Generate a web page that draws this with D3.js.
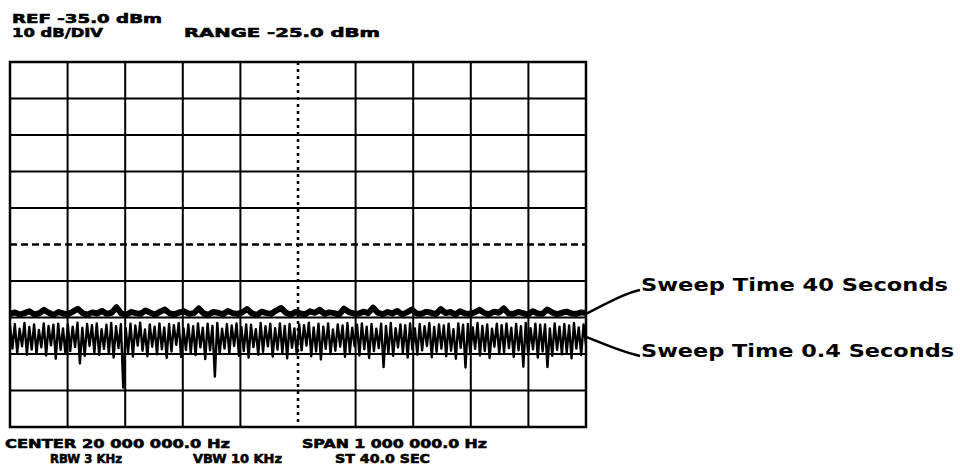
<!doctype html>
<html lang="en">
<head>
<meta charset="UTF-8">
<title>Spectrum analyzer sweep time</title>
<script src="https://d3js.org/d3.v7.min.js"></script>
<style>
  body { margin: 0; background: #fff; }
  text { fill: #000; }
</style>
</head>
<body>
<div id="chart-area"></div>

<script>

// analyzer settings (from the screen annotations)
const refLevel = -35;       // dBm, top of screen
const dbPerDiv = 10;
const nDiv = 10;
const centerMHz = 20.0;
const spanMHz = 1.0;

const headerTexts = ['REF -35.0 dBm', '10 dB/DIV', 'RANGE -25.0 dBm'];
const footerTexts = ['CENTER 20 000 000.0 Hz', 'SPAN 1 000 000.0 Hz', 'RBW 3 KHz', 'VBW 10 KHz', 'ST 40.0 SEC'];
const traceNames = ['Sweep Time 40 Seconds', 'Sweep Time 0.4 Seconds'];

// 40 s sweep - smooth trace, dBm
const slowTrace = [
  -104.0, -103.6, -104.2, -103.8, -103.3, -104.1, -103.9, -102.9, -103.7, -104.3, -103.5, -103.9,
  -104.1, -103.4, -102.6, -103.8, -104.2, -103.6, -103.9, -103.2, -104.0, -103.7, -102.2, -103.9,
  -104.3, -103.5, -103.8, -104.0, -103.1, -103.7, -104.2, -103.4, -102.8, -103.9, -104.1, -103.6,
  -103.3, -104.0, -103.8, -102.5, -103.9, -104.2, -103.5, -103.7, -104.1, -103.2, -103.8, -104.0,
  -103.6, -102.7, -103.9, -104.3, -103.4, -103.8, -104.0, -103.1, -102.4, -103.7, -104.2, -103.5,
  -103.9, -104.1, -103.3, -103.7, -102.9, -104.0, -103.6, -103.8, -104.2, -102.6, -103.5, -103.9,
  -104.0, -103.4, -103.8, -102.3, -103.7, -104.1, -103.5, -103.9, -103.2, -104.2, -103.6, -102.8,
  -103.9, -104.0, -103.4, -103.7, -104.1, -102.7, -103.8, -103.5, -104.2, -103.3, -103.9, -104.0,
  -103.6, -102.9, -103.8, -104.1, -103.4, -103.7, -102.5, -103.9, -104.0, -103.5, -103.8, -104.2,
  -103.3, -103.9, -104.0, -102.8, -103.6, -104.1, -103.7, -103.4, -103.9, -104.0, -103.6, -103.8
];

// 0.4 s sweep - noisy trace, dBm
const fastTrace = [
  -107.2, -113.5, -106.8, -114.6, -108.1, -112.9, -106.5, -115.2, -107.6, -113.8, -106.9, -114.9,
  -108.4, -113.2, -106.6, -115.4, -107.3, -112.6, -107.0, -116.3, -106.7, -113.9, -108.0, -115.0,
  -106.9, -114.2, -107.5, -113.1, -106.4, -117.6, -107.8, -115.5, -106.8, -112.8, -107.1, -114.7,
  -106.6, -115.3, -108.2, -113.6, -107.0, -114.8, -106.5, -116.0, -107.4, -113.4, -106.8, -124.2,
  -107.9, -114.5, -106.7, -115.7, -107.2, -112.7, -106.4, -114.1, -108.3, -115.6, -106.9, -113.0,
  -107.5, -115.1, -106.6, -113.7, -107.7, -116.1, -106.8, -114.3, -107.1, -112.5, -106.5, -115.8,
  -108.0, -113.9, -106.9, -114.6, -107.4, -115.3, -106.6, -113.2, -107.8, -116.4, -106.7, -114.0,
  -107.3, -121.2, -106.5, -115.0, -108.1, -113.5, -106.8, -114.9, -107.2, -112.8, -106.6, -115.5,
  -107.6, -114.2, -106.9, -116.0, -107.0, -113.1, -108.2, -115.2, -106.5, -114.4, -107.4, -112.9,
  -106.7, -115.7, -107.9, -113.8, -106.6, -114.7, -107.3, -116.2, -106.8, -113.3, -108.0, -115.1,
  -106.9, -114.0, -107.1, -112.7, -106.4, -115.6, -107.7, -114.3, -106.7, -116.5, -107.5, -113.6,
  -106.6, -115.0, -108.3, -114.1, -106.9, -113.0, -107.2, -115.8, -106.5, -114.5, -107.8, -112.9,
  -107.0, -115.4, -106.6, -113.7, -107.5, -116.1, -106.8, -114.2, -108.1, -113.4, -106.7, -118.6,
  -107.3, -114.8, -106.5, -115.5, -107.9, -113.2, -106.9, -114.6, -107.1, -116.0, -106.6, -113.8,
  -108.0, -115.2, -106.8, -114.0, -107.4, -112.8, -106.5, -115.9, -107.6, -114.4, -106.9, -113.5,
  -107.2, -115.6, -106.7, -114.1, -108.2, -116.3, -106.6, -113.3, -107.0, -118.7, -106.8, -114.9,
  -107.7, -113.6, -106.5, -115.4, -107.3, -114.2, -106.9, -116.1, -108.1, -113.0, -106.7, -115.0,
  -107.1, -114.5, -106.6, -113.4, -107.8, -115.8, -106.8, -114.0, -107.4, -118.5, -106.5, -115.2,
  -107.9, -113.7, -106.7, -116.0, -107.0, -114.3, -106.9, -118.6, -108.0, -115.5, -106.6, -113.9,
  -107.5, -115.1, -106.8, -114.6, -107.2, -116.2, -106.5, -113.5, -107.7, -115.3, -106.9, -112.5
];

const W = 960, H = 470;
const plot = { left: 10, right: 586, top: 62, bottom: 427 };

const svg = d3.select('#chart-area')
    .append('svg')
    .attr('width', W)
    .attr('height', H)
    .style('font-family', '"DejaVu Sans", sans-serif');

const x = d3.scaleLinear()
    .domain([centerMHz - spanMHz / 2, centerMHz + spanMHz / 2])
    .range([plot.left, plot.right]);
const y = d3.scaleLinear()
    .domain([refLevel - dbPerDiv * nDiv, refLevel])
    .range([plot.bottom, plot.top]);

// frequency of each trace point across the span
const freqAt = (i, n) => x.domain()[0] + spanMHz * i / (n - 1);

// graticule
const xTicks = d3.range(nDiv + 1).map(i => x.domain()[0] + spanMHz * i / nDiv);
const yTicks = d3.range(nDiv + 1).map(i => y.domain()[0] + dbPerDiv * i);
const midF = centerMHz, midDb = refLevel - dbPerDiv * nDiv / 2;

const grid = svg.append('g');
grid.selectAll('.vl').data(xTicks.filter(f => Math.abs(f - midF) > 1e-6))
  .enter().append('line')
    .attr('x1', d => x(d)).attr('x2', d => x(d))
    .attr('y1', plot.top).attr('y2', plot.bottom)
    .attr('stroke', '#000').attr('stroke-width', 2);
grid.selectAll('.hl').data(yTicks.filter(v => Math.abs(v - midDb) > 1e-6))
  .enter().append('line')
    .attr('y1', d => y(d)).attr('y2', d => y(d))
    .attr('x1', plot.left).attr('x2', plot.right)
    .attr('stroke', '#000').attr('stroke-width', 2);
// dashed centre lines
grid.append('line')
    .attr('x1', x(midF)).attr('x2', x(midF))
    .attr('y1', plot.top).attr('y2', plot.bottom)
    .attr('stroke', '#000').attr('stroke-width', 2.5)
    .attr('stroke-dasharray', '3,4');
grid.append('line')
    .attr('y1', y(midDb)).attr('y2', y(midDb))
    .attr('x1', plot.left).attr('x2', plot.right)
    .attr('stroke', '#000').attr('stroke-width', 2.5)
    .attr('stroke-dasharray', '7,4');
grid.append('rect')
    .attr('x', plot.left).attr('y', plot.top)
    .attr('width', plot.right - plot.left).attr('height', plot.bottom - plot.top)
    .attr('fill', 'none').attr('stroke', '#000').attr('stroke-width', 2.5);

// traces
svg.append('clipPath').attr('id', 'clip')
  .append('rect')
    .attr('x', plot.left).attr('y', plot.top)
    .attr('width', plot.right - plot.left).attr('height', plot.bottom - plot.top);

const line = d3.line()
    .x(d => x(d.f))
    .y(d => y(d.v));

const fastData = fastTrace.map((v, i) => ({ f: freqAt(i, fastTrace.length), v }));
const slowData = slowTrace.map((v, i) => ({ f: freqAt(i, slowTrace.length), v }));

svg.append('path')
    .datum(fastData)
    .attr('clip-path', 'url(#clip)')
    .attr('d', line)
    .attr('fill', 'none')
    .attr('stroke', '#000')
    .attr('stroke-width', 2.4)
    .attr('stroke-linejoin', 'round');

svg.append('path')
    .datum(slowData)
    .attr('clip-path', 'url(#clip)')
    .attr('d', line)
    .attr('fill', 'none')
    .attr('stroke', '#000')
    .attr('stroke-width', 6)
    .attr('stroke-linejoin', 'round');

// screen annotations (stretched and thickened to mimic the plotter font)
function screenText(str, px, py, len) {
    svg.append('text')
        .attr('x', px).attr('y', py)
        .attr('font-size', 12.5)
        .attr('font-weight', 'bold')
        .attr('stroke', '#000')
        .attr('stroke-width', 0.6)
        .attr('textLength', len)
        .attr('lengthAdjust', 'spacingAndGlyphs')
        .text(str);
}
screenText(headerTexts[0], 12, 22.5, 150);
screenText(headerTexts[1], 12, 37, 91);
screenText(headerTexts[2], 184, 37, 196);
screenText(footerTexts[0], 5, 448, 225);
screenText(footerTexts[1], 302, 448, 185);
screenText(footerTexts[2], 50, 463, 72);
screenText(footerTexts[3], 193, 463, 89);
screenText(footerTexts[4], 335, 463, 95);

// callouts
const lastSlow = slowData[slowData.length - 1];
const lastFast = fastData[fastData.length - 1];
const callouts = [
    { name: traceNames[0], from: [x(lastSlow.f), y(-104)], mid: [627, 293], to: [640, 290], ty: 291, len: 307 },
    { name: traceNames[1], from: [x(lastFast.f), y(-110.3)], mid: [624, 352], to: [640, 356], ty: 357, len: 313 }
];
callouts.forEach(c => {
    svg.append('path')
        .attr('d', d3.line().curve(d3.curveBasis)([c.from, c.mid, c.to]))
        .attr('fill', 'none')
        .attr('stroke', '#000')
        .attr('stroke-width', 2.5);
    svg.append('text')
        .attr('x', 641).attr('y', c.ty)
        .attr('font-size', 18)
        .attr('font-weight', 'bold')
        .attr('textLength', c.len)
        .attr('lengthAdjust', 'spacingAndGlyphs')
        .text(c.name);
});

</script>
</body>
</html>
